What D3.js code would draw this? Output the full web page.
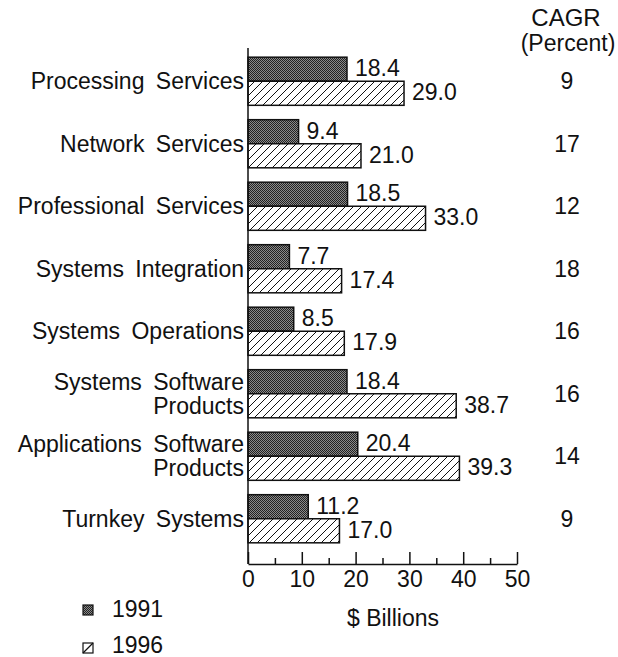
<!DOCTYPE html>
<html>
<head>
<meta charset="utf-8">
<script src="https://cdn.jsdelivr.net/npm/d3@7"></script>
<style>
  body { margin: 0; background: #fff; }
  text { font-family: "Liberation Sans", Arial, Helvetica, sans-serif; fill: #111; }
</style>
</head>
<body>
<svg width="618" height="657"></svg>
<script>
const svg = d3.select("svg");

// data
const categories = ["Processing Services", "Network Services", "Professional Services",
  "Systems Integration", "Systems Operations", "Systems Software\nProducts",
  "Applications Software\nProducts", "Turnkey Systems"];
const values1991 = [18.4, 9.4, 18.5, 7.7, 8.5, 18.4, 20.4, 11.2];
const values1996 = [29.0, 21.0, 33.0, 17.4, 17.9, 38.7, 39.3, 17.0];
const cagr = [9, 17, 12, 18, 16, 16, 14, 9];
const majorTicks = [0, 10, 20, 30, 40, 50];
const minorTicks = [5, 15, 25, 35, 45];
const years = ["1991", "1996"];

const x = d3.scaleLinear().domain([0, 50]).range([248, 517]);
const y = d3.scaleBand().domain(categories).range([50, 550])
  .paddingInner(0.23).paddingOuter(0.115);
const sub = d3.scaleBand().domain(years).range([0, y.bandwidth()]);

// patterns
const defs = svg.append("defs");
const dark = defs.append("pattern").attr("id", "dark")
  .attr("width", 2).attr("height", 2).attr("patternUnits", "userSpaceOnUse");
dark.append("rect").attr("width", 2).attr("height", 2).attr("fill", "#8a8a8a");
dark.append("rect").attr("width", 1).attr("height", 1).attr("fill", "#222");
dark.append("rect").attr("x", 1).attr("y", 1).attr("width", 1).attr("height", 1).attr("fill", "#222");

const hatch = defs.append("pattern").attr("id", "hatch")
  .attr("width", 8).attr("height", 8).attr("patternUnits", "userSpaceOnUse");
hatch.append("rect").attr("width", 8).attr("height", 8).attr("fill", "#fff");
hatch.append("path").attr("d", "M-2,2 L2,-2 M0,8 L8,0 M6,10 L10,6")
  .attr("stroke", "#111").attr("stroke-width", 1);

const fills = { "1991": "url(#dark)", "1996": "url(#hatch)" };

// bars
const g = svg.append("g");
const rows = categories.map((c, i) => ({ c, v: [values1991[i], values1996[i]], cagr: cagr[i] }));

rows.forEach(r => {
  years.forEach((yr, j) => {
    g.append("rect")
      .attr("x", x(0))
      .attr("y", y(r.c) + sub(yr))
      .attr("width", x(r.v[j]) - x(0))
      .attr("height", sub.bandwidth())
      .attr("fill", fills[yr])
      .attr("stroke", "#111")
      .attr("stroke-width", 1.5);
    g.append("text")
      .attr("x", x(r.v[j]) + 8)
      .attr("y", y(r.c) + sub(yr) + sub.bandwidth() / 2)
      .attr("dy", "0.3em")
      .attr("font-size", 23)
      .text(r.v[j].toFixed(1));
  });

  // category labels
  const lines = r.c.split("\n");
  const cy = y(r.c) + y.bandwidth() / 2;
  lines.forEach((ln, k) => {
    g.append("text")
      .attr("x", 244)
      .attr("y", cy + (k - (lines.length - 1) / 2) * 24)
      .attr("dy", "0.35em")
      .attr("text-anchor", "end")
      .attr("font-size", 23)
      .attr("word-spacing", 5)
      .text(ln);
  });

  // CAGR
  g.append("text")
    .attr("x", 567)
    .attr("y", cy)
    .attr("dy", "0.35em")
    .attr("text-anchor", "middle")
    .attr("font-size", 23)
    .text(r.cagr);
});

// CAGR header
svg.append("text").attr("x", 566).attr("y", 18).attr("dy", "0.35em")
  .attr("text-anchor", "middle").attr("font-size", 24).text("CAGR");
svg.append("text").attr("x", 568).attr("y", 43).attr("dy", "0.35em")
  .attr("text-anchor", "middle").attr("font-size", 23).text("(Percent)");

// axes
svg.append("line").attr("x1", x(0)).attr("x2", x(0)).attr("y1", 48).attr("y2", 564)
  .attr("stroke", "#111").attr("stroke-width", 1.5);

const xAxis = svg.append("g").attr("transform", "translate(0,564)")
  .call(d3.axisBottom(x).tickValues(majorTicks).tickSize(-12).tickSizeOuter(0));
xAxis.select(".domain").attr("stroke", "#111").attr("stroke-width", 1.5);
xAxis.selectAll(".tick line").attr("stroke", "#111").attr("stroke-width", 1.5);
xAxis.selectAll(".tick text").attr("y", 7).attr("dy", "0.71em")
  .attr("font-size", 23).attr("font-family", null).attr("fill", "#111");

const minor = svg.append("g").attr("transform", "translate(0,564)")
  .call(d3.axisBottom(x).tickValues(minorTicks).tickSize(-6).tickFormat(""));
minor.select(".domain").remove();
minor.selectAll(".tick line").attr("stroke", "#111").attr("stroke-width", 1.5);

svg.append("text").attr("x", 393).attr("y", 618).attr("dy", "0.35em")
  .attr("text-anchor", "middle").attr("font-size", 23).text("$ Billions");

// legend
const legend = svg.append("g");
years.forEach((yr, i) => {
  legend.append("rect")
    .attr("x", 83).attr("y", 605 + i * 38)
    .attr("width", 10).attr("height", 10)
    .attr("fill", i === 0 ? fills[yr] : "#fff").attr("stroke", "#111").attr("stroke-width", 1.2);
  if (i === 1) {
    legend.append("line").attr("x1", 83).attr("y1", 605 + i * 38 + 10)
      .attr("x2", 93).attr("y2", 605 + i * 38).attr("stroke", "#111").attr("stroke-width", 1.2);
  }
  legend.append("text")
    .attr("x", 112).attr("y", 609 + i * 36)
    .attr("dy", "0.35em").attr("font-size", 23).text(yr);
});
</script>
</body>
</html>
